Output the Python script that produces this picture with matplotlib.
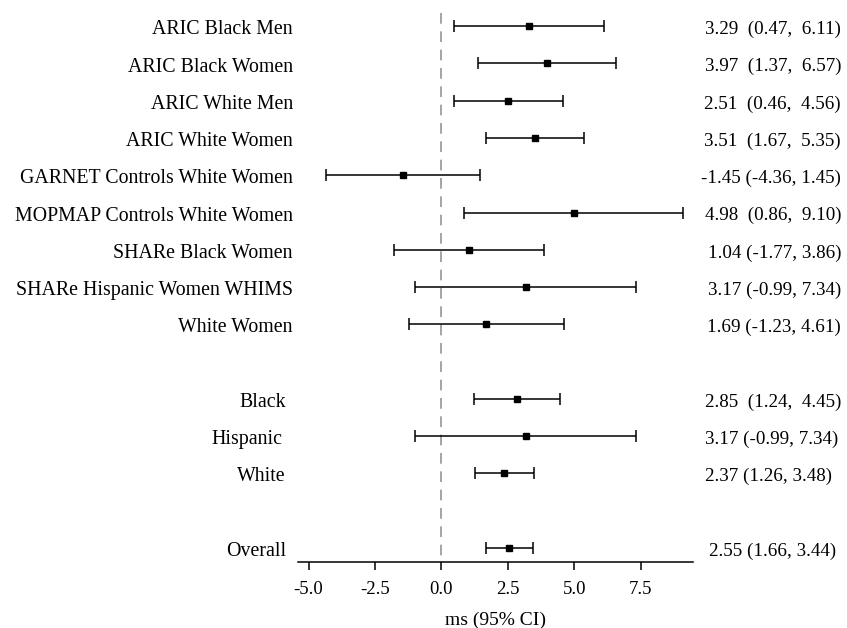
import matplotlib
matplotlib.use("Agg")
import matplotlib.pyplot as plt
import matplotlib.transforms as mtransforms

plt.rcParams['font.family'] = ['Liberation Serif', 'DejaVu Serif']

# rows (index = vertical position, gaps at 9 and 13)
labels = ["ARIC Black Men", "ARIC Black Women", "ARIC White Men", "ARIC White Women",
          "GARNET Controls White Women", "MOPMAP Controls White Women",
          "SHARe Black Women", "SHARe Hispanic Women WHIMS", "White Women",
          "Black", "Hispanic", "White", "Overall"]
rows = [0, 1, 2, 3, 4, 5, 6, 7, 8, 10, 11, 12, 14]
est = [3.29, 3.97, 2.51, 3.51, -1.45, 4.98, 1.04, 3.17, 1.69, 2.85, 3.17, 2.37, 2.55]
lo = [0.47, 1.37, 0.46, 1.67, -4.36, 0.86, -1.77, -0.99, -1.23, 1.24, -0.99, 1.26, 1.66]
hi = [6.11, 6.57, 4.56, 5.35, 1.45, 9.10, 3.86, 7.34, 4.61, 4.45, 7.34, 3.48, 3.44]
ci_text = ["3.29  (0.47,  6.11)", "3.97  (1.37,  6.57)", "2.51  (0.46,  4.56)",
           "3.51  (1.67,  5.35)", "-1.45 (-4.36, 1.45)", "4.98  (0.86,  9.10)",
           "1.04 (-1.77, 3.86)", "3.17 (-0.99, 7.34)", "1.69 (-1.23, 4.61)",
           "2.85  (1.24,  4.45)", "3.17 (-0.99, 7.34)", "2.37 (1.26, 3.48)",
           "2.55 (1.66, 3.44)"]
xticks = [-5.0, -2.5, 0.0, 2.5, 5.0, 7.5]

# label placement (axes fraction), tuned by hand
left_x = [-0.0127] * 9 + [-0.030, -0.040, -0.032, -0.030]
# first block right-aligned, pooled block left-aligned
right_x = [1.3747] * 9 + [1.0304, 1.0304, 1.0304, 1.0405]
right_ha = ['right'] * 9 + ['left'] * 4

fig = plt.figure(figsize=(8.47, 6.28), dpi=100)
ax = fig.add_axes([0.3518, 0.1056, 0.4664, 0.8734])
ylo, yhi = 14.37, -0.35

xerr = [[e - l for e, l in zip(est, lo)], [h - e for e, h in zip(est, hi)]]
ax.errorbar(est, rows, xerr=xerr, fmt='s', color='black', ecolor='black',
            markersize=4, elinewidth=1.1, capsize=4.5, capthick=1.1)
# dashed zero line drawn from the top down so the dash pattern starts at the top
ax.plot([0, 0], [yhi, ylo], color='#8c8c8c', lw=1.1, dashes=(7, 5), zorder=0)

ax.set_xlim(-5.4, 9.47)
ax.set_ylim(ylo, yhi)
ax.set_xticks(xticks)
ax.set_xticklabels([f"{t:.1f}" for t in xticks], fontsize=13.5)
ax.set_yticks([])
for s in ['top', 'right', 'left']:
    ax.spines[s].set_visible(False)
ax.spines['bottom'].set_linewidth(1.1)
ax.tick_params(axis='x', length=6, width=1.1, pad=8)
ax.set_xlabel("ms (95% CI)", fontsize=14, labelpad=10)

trans = mtransforms.blended_transform_factory(ax.transAxes, ax.transData)
ltrans = mtransforms.offset_copy(trans, fig=fig, y=-5.8, units='points')
rtrans = mtransforms.offset_copy(trans, fig=fig, y=-5.6, units='points')
for i, r in enumerate(rows):
    ax.text(left_x[i], r, labels[i], transform=ltrans, ha='right', va='baseline',
            fontsize=14.3)
    ax.text(right_x[i], r, ci_text[i], transform=rtrans, ha=right_ha[i],
            va='baseline', fontsize=13.7)

fig.savefig("out.png", dpi=100)
